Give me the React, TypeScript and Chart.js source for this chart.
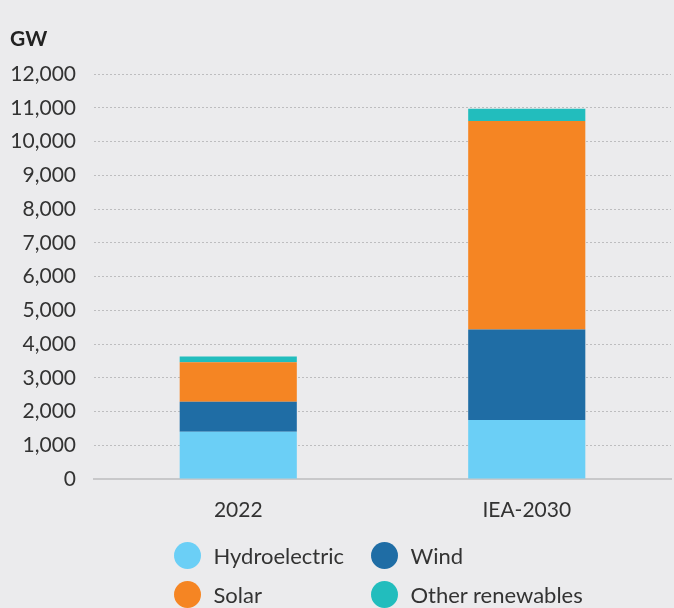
import React, { useEffect, useRef } from "react";
import { Chart, registerables } from "chart.js";

Chart.register(...registerables);

const categories = ["2022", "IEA-2030"];
const hydroelectric = [1400, 1750];
const wind = [890, 2680];
const solar = [1170, 6180];
const otherRenewables = [170, 360];
const yMax = 12000;
const yStep = 1000;
const unitLabel = "GW";

const COLORS = {
  hydro: "#6bcff6",
  wind: "#1f6da5",
  solar: "#f58523",
  other: "#22bdbd",
};

const legendItems = [
  { label: "Hydroelectric", color: COLORS.hydro },
  { label: "Wind", color: COLORS.wind },
  { label: "Solar", color: COLORS.solar },
  { label: "Other renewables", color: COLORS.other },
];

const FONT = "Lato, 'Open Sans', sans-serif";
const TEXT = "#333333";
const BG = "#ebebed";

export default function App() {
  const ref = useRef<HTMLCanvasElement | null>(null);

  useEffect(() => {
    document.body.style.margin = "0";
    document.body.style.background = BG;
    const ctx = ref.current!.getContext("2d")!;
    const chart = new Chart(ctx, {
      type: "bar",
      data: {
        labels: categories,
        datasets: [
          { label: "Hydroelectric", data: hydroelectric, backgroundColor: COLORS.hydro },
          { label: "Wind", data: wind, backgroundColor: COLORS.wind },
          { label: "Solar", data: solar, backgroundColor: COLORS.solar },
          { label: "Other renewables", data: otherRenewables, backgroundColor: COLORS.other },
        ],
      },
      options: {
        animation: false,
        responsive: false,
        maintainAspectRatio: false,
        layout: { padding: { top: 74, left: 0, right: 3, bottom: 79 } },
        datasets: {
          bar: { categoryPercentage: 1, barPercentage: 0.406, borderWidth: 0 },
        },
        plugins: {
          legend: { display: false },
          tooltip: { enabled: false },
        },
        scales: {
          x: {
            stacked: true,
            grid: { display: false, drawTicks: false },
            border: { display: true, color: "#c8c8ca", width: 2 },
            ticks: { color: TEXT, font: { family: FONT, size: 21 }, padding: 19 },
            afterFit: (s: any) => {
              s.height = 50;
            },
          },
          y: {
            stacked: true,
            min: 0,
            max: yMax,
            grid: { color: "#bdbdbf", lineWidth: 1, drawTicks: false },
            border: { display: false, dash: [2, 2] },
            ticks: {
              stepSize: yStep,
              color: TEXT,
              font: { family: FONT, size: 21 },
              padding: 18,
              callback: (v: any) => Number(v).toLocaleString("en-US"),
            },
            afterFit: (s: any) => {
              s.width = 94;
            },
          },
        },
      },
    });
    return () => chart.destroy();
  }, []);

  return (
    <div style={{ position: "relative", width: 674, height: 608, background: BG, overflow: "hidden", fontFamily: FONT, color: TEXT }}>
      <canvas ref={ref} width={674} height={608} style={{ position: "absolute", left: 0, top: 0 }} />
      <div style={{ position: "absolute", left: 10, top: 25, fontSize: 21, fontWeight: 700, color: "#222" }}>{unitLabel}</div>
      {legendItems.map((it, i) => {
        const col = i % 2;
        const row = Math.floor(i / 2);
        const cx = col === 0 ? 187 : 384;
        const cy = row === 0 ? 555 : 594;
        return (
          <div key={it.label} style={{ position: "absolute", left: cx - 13.5, top: cy - 13.5, display: "flex", alignItems: "center", height: 27, whiteSpace: "nowrap" }}>
            <span style={{ width: 27, height: 27, borderRadius: "50%", background: it.color, display: "inline-block" }} />
            <span style={{ marginLeft: 13, fontSize: 22, lineHeight: "27px" }}>{it.label}</span>
          </div>
        );
      })}
    </div>
  );
}
